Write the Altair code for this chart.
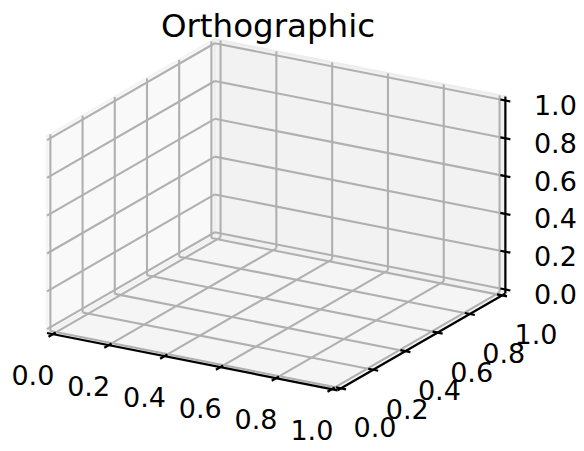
import altair as alt
import pandas as pd

# ---- data: tick values and their labels (same on all three axes) ----
x_ticks = [0.0, 0.2, 0.4, 0.6, 0.8, 1.0]
y_ticks = [0.0, 0.2, 0.4, 0.6, 0.8, 1.0]
z_ticks = [0.0, 0.2, 0.4, 0.6, 0.8, 1.0]
x_labels = ["0.0", "0.2", "0.4", "0.6", "0.8", "1.0"]
y_labels = ["0.0", "0.2", "0.4", "0.6", "0.8", "1.0"]
z_labels = ["0.0", "0.2", "0.4", "0.6", "0.8", "1.0"]
title_text = "Orthographic"

# ---- orthographic view (elev 30, azim -60) expressed as screen vectors ----
ORIGIN = (56.2, 328.3)     # screen position of data point (0,0,0)
EX = (279.0, 55.0)         # screen displacement of one unit of x
EY = (161.0, -93.0)        # one unit of y
EZ = (0.0, -189.0)         # one unit of z
M = 1.0 / 48.0             # pane margin around the [0, 1] limits
LO, HI = -M, 1.0 + M
TICK_HALF = 0.018          # half length of tick marks, data units


def proj(x, y, z):
    sx = ORIGIN[0] + x * EX[0] + y * EY[0] + z * EZ[0]
    sy = ORIGIN[1] + x * EX[1] + y * EY[1] + z * EZ[1]
    return sx, sy


def seg_rows(rows, key, p0, p1):
    for i, p in enumerate((p0, p1)):
        sx, sy = proj(*p)
        rows.append({"id": key, "o": i, "sx": sx, "sy": sy})


# panes (closed polygons)
pane_defs = {
    "xpane": [(LO, LO, LO), (LO, HI, LO), (LO, HI, HI), (LO, LO, HI), (LO, LO, LO)],
    "ypane": [(LO, HI, LO), (HI, HI, LO), (HI, HI, HI), (LO, HI, HI), (LO, HI, LO)],
    "zpane": [(LO, LO, LO), (HI, LO, LO), (HI, HI, LO), (LO, HI, LO), (LO, LO, LO)],
}
pane_rows = []
for name, pts in pane_defs.items():
    for i, p in enumerate(pts):
        sx, sy = proj(*p)
        pane_rows.append({"pane": name, "o": i, "sx": sx, "sy": sy})
panes = pd.DataFrame(pane_rows)

# grid lines on the three panes
grid_rows = []
for t in y_ticks:
    seg_rows(grid_rows, f"xp_y{t}", (LO, t, LO), (LO, t, HI))
    seg_rows(grid_rows, f"zp_y{t}", (LO, t, LO), (HI, t, LO))
for t in z_ticks:
    seg_rows(grid_rows, f"xp_z{t}", (LO, LO, t), (LO, HI, t))
    seg_rows(grid_rows, f"yp_z{t}", (LO, HI, t), (HI, HI, t))
for t in x_ticks:
    seg_rows(grid_rows, f"yp_x{t}", (t, HI, LO), (t, HI, HI))
    seg_rows(grid_rows, f"zp_x{t}", (t, LO, LO), (t, HI, LO))
grid = pd.DataFrame(grid_rows)

# axis lines and tick marks
axis_rows = []
seg_rows(axis_rows, "xaxis", (LO, LO, LO), (HI, LO, LO))
seg_rows(axis_rows, "yaxis", (HI, LO, LO), (HI, HI, LO))
seg_rows(axis_rows, "zaxis", (HI, HI, LO), (HI, HI, HI))
for t in x_ticks:
    seg_rows(axis_rows, f"xt{t}", (t, LO - 1.5 * TICK_HALF, LO), (t, LO + TICK_HALF, LO))
for t in y_ticks:
    seg_rows(axis_rows, f"yt{t}", (HI - TICK_HALF, t, LO), (HI + TICK_HALF, t, LO))
for t in z_ticks:
    seg_rows(axis_rows, f"zt{t}", (HI - TICK_HALF, HI, t), (HI + TICK_HALF, HI, t))
axes_df = pd.DataFrame(axis_rows)

# tick labels
def label_df(ticks, labels, fn):
    rows = []
    for t, lab in zip(ticks, labels):
        sx, sy = proj(*fn(t))
        rows.append({"sx": sx, "sy": sy, "label": lab})
    return pd.DataFrame(rows)

xl = label_df(x_ticks, x_labels, lambda t: (t, LO, LO))
yl = label_df(y_ticks, y_labels, lambda t: (HI, t, LO))
zl = label_df(z_ticks, z_labels, lambda t: (HI, HI, t))

W, H = 568, 435
xs = alt.Scale(domain=[8, 8 + W])
ys = alt.Scale(domain=[8, 8 + H], reverse=True)
X = alt.X("sx:Q", scale=xs, axis=None)
Y = alt.Y("sy:Q", scale=ys, axis=None)

pane_style = {
    "xpane": ("#f9f9f9", "#f4f4f4"),
    "ypane": ("#f2f2f2", "#ededed"),
    "zpane": ("#f5f5f5", "#f0f0f0"),
}
pane_layers = []
for name, (fc, ec) in pane_style.items():
    pane_layers.append(
        alt.Chart(panes)
        .transform_filter(alt.datum.pane == name)
        .mark_line(fill=fc, stroke=ec, strokeWidth=2.5, strokeJoin="miter")
        .encode(x=X, y=Y, order="o:Q")
    )

grid_layer = alt.Chart(grid).mark_line(color="#b0b0b0", strokeWidth=2.1).encode(
    x=X, y=Y, detail="id:N", order="o:Q"
)
axis_layer = alt.Chart(axes_df).mark_line(color="black", strokeWidth=2.2, strokeCap="butt").encode(
    x=X, y=Y, detail="id:N", order="o:Q"
)

FONT = "DejaVu Sans"
FS = 27
xl_layer = alt.Chart(xl).mark_text(font=FONT, fontSize=FS, dx=-20, dy=43, align="center", baseline="middle", color="black").encode(x=X, y=Y, text="label:N")
yl_layer = alt.Chart(yl).mark_text(font=FONT, fontSize=FS, dx=34, dy=41, align="center", baseline="middle", color="black").encode(x=X, y=Y, text="label:N")
zl_layer = alt.Chart(zl).mark_text(font=FONT, fontSize=FS, dx=50, dy=6.5, align="center", baseline="middle", color="black").encode(x=X, y=Y, text="label:N")

title_layer = alt.Chart(pd.DataFrame({"t": [title_text]})).mark_text(
    font=FONT, fontSize=32.5, align="center", baseline="alphabetic", color="black"
).encode(x=alt.value(260), y=alt.value(29), text="t:N")

chart = alt.layer(
    *pane_layers, grid_layer, axis_layer, xl_layer, yl_layer, zl_layer, title_layer
).properties(
    width=W, height=H, padding=0, autosize="none"
).configure_view(stroke=None)

chart.save("out.html", embed_options={"renderer": "svg", "actions": False})
